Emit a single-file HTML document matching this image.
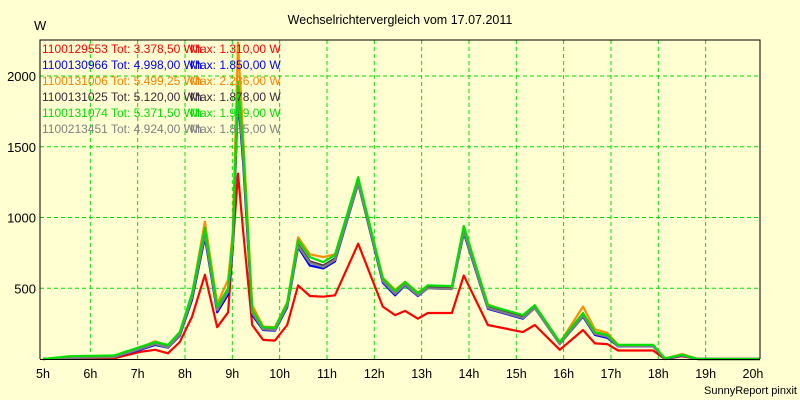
<!DOCTYPE html>
<html><head><meta charset="utf-8"><style>
body{margin:0;background:#ffffd2;}
svg{display:block;font-family:"Liberation Sans",sans-serif;}
</style></head><body>
<svg id="chart" width="800" height="400" viewBox="0 0 800 400">
<rect x="0" y="0" width="800" height="400" fill="#ffffd2"/>
<text x="400" y="24" text-anchor="middle" font-size="12.5" fill="#000">Wechselrichtervergleich vom 17.07.2011</text>
<text x="34" y="30" font-size="13" fill="#000">W</text>
<text x="797" y="394" text-anchor="end" font-size="11" fill="#000">SunnyReport pinxit</text>
<g id="grid"></g>
<g id="series"></g>
<g id="axes"></g>
<g id="legend"></g>
</svg>
<script>
const times=[5.0,5.57,6.5,7.05,7.37,7.64,7.89,8.15,8.42,8.68,8.91,9.01,9.12,9.23,9.42,9.65,9.9,10.16,10.39,10.64,10.92,11.17,11.66,12.18,12.44,12.65,12.92,13.13,13.64,13.89,14.4,15.14,15.39,15.92,16.41,16.66,16.92,17.15,17.89,18.14,18.5,18.84,20.15];
const redVals=[0,5,5,50,65,40,120,300,595,225,330,800,1310,900,240,135,130,240,520,445,440,450,815,370,310,340,285,325,325,590,240,190,240,65,205,110,105,60,60,0,20,0,0];
const blueVals=[0,10,15,65,100,80,165,420,860,330,455,780,1850,1380,310,205,200,365,790,660,640,690,1240,540,450,520,445,500,495,890,355,285,360,105,300,170,150,90,90,0,25,0,0];
const orangeVals=[0,15,20,80,125,95,185,460,970,390,560,900,2236,1560,380,230,225,400,860,740,720,740,1270,575,490,545,470,515,505,930,385,300,375,115,370,210,185,100,95,3,35,0,0];
const darkVals=[0,12,18,72,108,85,175,440,890,350,480,820,1878,1420,330,215,210,380,810,690,660,710,1250,555,465,530,455,505,500,905,365,295,365,110,310,180,160,95,95,2,28,0,0];
const greenVals=[0,20,25,85,120,100,190,465,925,370,500,860,1960,1500,345,225,220,395,840,720,685,735,1285,570,480,545,465,520,515,940,380,310,380,120,325,190,170,100,100,5,30,0,0];
const grayVals=[0,8,14,70,105,82,170,435,880,345,475,810,1885,1430,325,210,205,375,800,680,650,700,1245,550,460,525,450,500,495,900,360,290,360,105,305,178,158,92,92,2,26,0,0];
const hourTicks=["5h","6h","7h","8h","9h","10h","11h","12h","13h","14h","15h","16h","17h","18h","19h","20h"];
const yTicks=[500,1000,1500,2000];
const legendNames=["1100129553","1100130966","1100131006","1100131025","1100131074","1100213451"];
const legendTot=["3.378,50","4.998,00","5.499,25","5.120,00","5.371,50","4.924,00"];
const legendMax=["1.310,00","1.850,00","2.236,00","1.878,00","1.969,00","1.885,00"];

const NS="http://www.w3.org/2000/svg";
const X0=43, PXH=47.33, Y0=359, PXW=283/2000;
const L=40, R=760, T=40;
function xs(h){return X0+(h-5)*PXH;}
function ys(v){return Y0-v*PXW;}
function mk(tag,attrs,parent){const e=document.createElementNS(NS,tag);for(const k in attrs)e.setAttribute(k,attrs[k]);parent.appendChild(e);return e;}

const grid=document.getElementById('grid');
for(let i=1;i<hourTicks.length-1;i++){
  const x=xs(5+i);
  const l=mk('line',{x1:x,y1:T,x2:x,y2:Y0,stroke:'#00e000','stroke-dasharray':'4,3','stroke-width':1},grid);
  
  
}
yTicks.forEach(v=>{
  const y=ys(v);
  const l=mk('line',{x1:L,y1:y,x2:R,y2:y,stroke:'#00e000','stroke-dasharray':'4,3','stroke-width':1},grid);
  
  
});

const axes=document.getElementById('axes');
const frame=mk('path',{d:`M${L},${Y0} L${L},${T} L${R},${T} L${R},${Y0}`,fill:'none',stroke:'#000','stroke-width':1},axes);


const xa=mk('line',{x1:L,y1:Y0+0.5,x2:R,y2:Y0+0.5,stroke:'#000','stroke-width':1},axes);


hourTicks.forEach((t,i)=>{
  const tx=mk('text',{x:xs(5+i),y:378,'text-anchor':'middle','font-size':12.5,fill:'#000'},axes);
  tx.textContent=t;
  
  
});
yTicks.forEach(v=>{
  const tx=mk('text',{x:36,y:ys(v)+5,'text-anchor':'end','font-size':13,fill:'#000'},axes);
  tx.textContent=v;
  
  
});

const seriesG=document.getElementById('series');
const seriesList=[
  {vals:redVals,color:'#ff0000',name:'series-1100129553'},
  {vals:orangeVals,color:'#ff8c00',name:'series-1100131006'},
  {vals:blueVals,color:'#0000ff',name:'series-1100130966'},
  {vals:darkVals,color:'#4b2d4b',name:'series-1100131025'},
  {vals:grayVals,color:'#808080',name:'series-1100213451'},
  {vals:greenVals,color:'#00e000',name:'series-1100131074'}
];
seriesList.forEach(s=>{
  const pts=times.map((t,i)=>xs(t).toFixed(1)+','+ys(s.vals[i]).toFixed(1)).join(' ');
  const p=mk('polyline',{points:pts,fill:'none',stroke:s.color,'stroke-width':2.2,'stroke-linejoin':'round'},seriesG);
  
  
});

const legend=document.getElementById('legend');
const legendColors=['#ff0000','#0000ff','#ff8000','#3c283c','#00e000','#808080'];
legendNames.forEach((n,i)=>{
  const y=53+i*16;
  const t=mk('text',{x:42,y:y,'font-size':12,fill:legendColors[i]},legend);
  t.textContent=n+' Tot: '+legendTot[i]+' Wh';
  
  
  const m=mk('text',{x:190,y:y,'font-size':12,fill:legendColors[i]},legend);
  m.textContent='Max: '+legendMax[i]+' W';
  
  
});
</script>
</body></html>
